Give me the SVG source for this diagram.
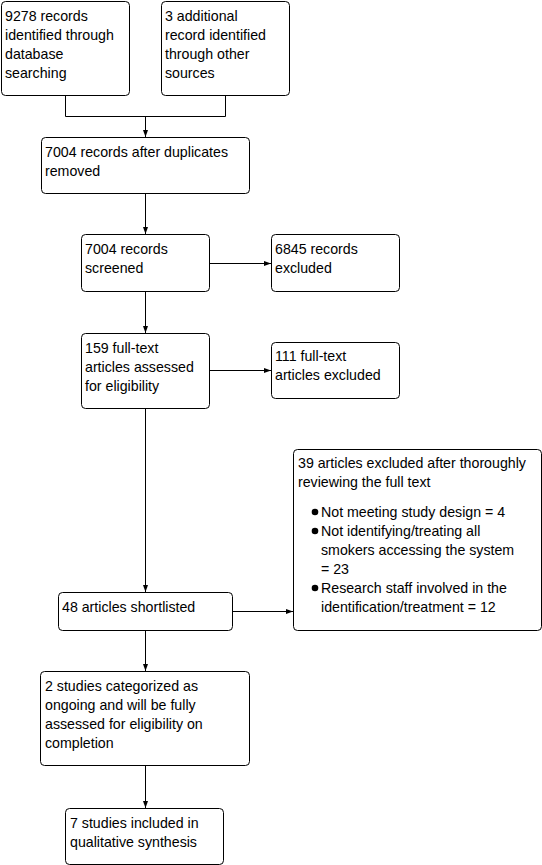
<svg xmlns="http://www.w3.org/2000/svg" width="542" height="865" viewBox="0 0 542 865">
<defs>
<style>
.box{fill:#fff;stroke:#000;stroke-width:1}
.t{font-family:"Liberation Sans",Arial,sans-serif;font-size:14.2px;fill:#000}
.c{fill:none;stroke:#000;stroke-width:1}
</style>
<marker id="arr" markerUnits="userSpaceOnUse" markerWidth="7" markerHeight="6" refX="7" refY="3" orient="auto">
<path d="M0,0.5 L7,3 L0,5.5 z" fill="#000"/>
</marker>
</defs>
<rect width="542" height="865" fill="#fff"/>
<g id="connectors">
<path class="c" d="M65.5,95 V116.5 H225.5 V95"/>
<path class="c" d="M145.5,116.5 V137" marker-end="url(#arr)"/>
<path class="c" d="M145.5,193 V234" marker-end="url(#arr)"/>
<path class="c" d="M209,263.5 H271" marker-end="url(#arr)"/>
<path class="c" d="M145.5,291 V333" marker-end="url(#arr)"/>
<path class="c" d="M209,370.5 H271" marker-end="url(#arr)"/>
<path class="c" d="M145.5,408 V592" marker-end="url(#arr)"/>
<path class="c" d="M233,611.5 H293" marker-end="url(#arr)"/>
<path class="c" d="M145.5,631 V671" marker-end="url(#arr)"/>
<path class="c" d="M145.5,766 V808" marker-end="url(#arr)"/>
</g>
<g id="n1">
<rect class="box" x="1.5" y="1.5" width="128" height="94" rx="4"/>
<text class="t" x="5" y="21">9278 records</text>
<text class="t" x="5" y="40">identified through</text>
<text class="t" x="5" y="59">database</text>
<text class="t" x="5" y="78">searching</text>
</g>
<g id="n2">
<rect class="box" x="161.5" y="1.5" width="128" height="94" rx="4"/>
<text class="t" x="165" y="21">3 additional</text>
<text class="t" x="165" y="40">record identified</text>
<text class="t" x="165" y="59">through other</text>
<text class="t" x="165" y="78">sources</text>
</g>
<g id="n3">
<rect class="box" x="41.5" y="137.5" width="208" height="56" rx="4"/>
<text class="t" x="45" y="157">7004 records after duplicates</text>
<text class="t" x="45" y="176">removed</text>
</g>
<g id="n4">
<rect class="box" x="81.5" y="234.5" width="128" height="57" rx="4"/>
<text class="t" x="85" y="254">7004 records</text>
<text class="t" x="85" y="273">screened</text>
</g>
<g id="n5">
<rect class="box" x="271.5" y="234.5" width="128" height="57" rx="4"/>
<text class="t" x="275" y="254">6845 records</text>
<text class="t" x="275" y="273">excluded</text>
</g>
<g id="n6">
<rect class="box" x="81.5" y="333.5" width="128" height="75" rx="4"/>
<text class="t" x="85" y="353">159 full-text</text>
<text class="t" x="85" y="372">articles assessed</text>
<text class="t" x="85" y="391">for eligibility</text>
</g>
<g id="n7">
<rect class="box" x="271.5" y="342.5" width="128" height="56" rx="4"/>
<text class="t" x="275" y="361">111 full-text</text>
<text class="t" x="275" y="380">articles excluded</text>
</g>
<g id="n8">
<rect class="box" x="293.5" y="449.5" width="248" height="181" rx="4"/>
<text class="t" x="298" y="468">39 articles excluded after thoroughly</text>
<text class="t" x="298" y="487">reviewing the full text</text>
<circle cx="315" cy="512" r="3.3" fill="#000"/>
<text class="t" x="321" y="517">Not meeting study design = 4</text>
<circle cx="315" cy="531" r="3.3" fill="#000"/>
<text class="t" x="321" y="536">Not identifying/treating all</text>
<text class="t" x="321" y="555">smokers accessing the system</text>
<text class="t" x="321" y="574">= 23</text>
<circle cx="315" cy="588" r="3.3" fill="#000"/>
<text class="t" x="321" y="593">Research staff involved in the</text>
<text class="t" x="321" y="612">identification/treatment = 12</text>
</g>
<g id="n9">
<rect class="box" x="58.5" y="592.5" width="174" height="38" rx="4"/>
<text class="t" x="62" y="612">48 articles shortlisted</text>
</g>
<g id="n10">
<rect class="box" x="40.5" y="671.5" width="209" height="94" rx="4"/>
<text class="t" x="45" y="691">2 studies categorized as</text>
<text class="t" x="45" y="710">ongoing and will be fully</text>
<text class="t" x="45" y="729">assessed for eligibility on</text>
<text class="t" x="45" y="748">completion</text>
</g>
<g id="n11">
<rect class="box" x="65.5" y="808.5" width="158" height="56" rx="4"/>
<text class="t" x="70" y="828">7 studies included in</text>
<text class="t" x="70" y="847">qualitative synthesis</text>
</g>
</svg>
